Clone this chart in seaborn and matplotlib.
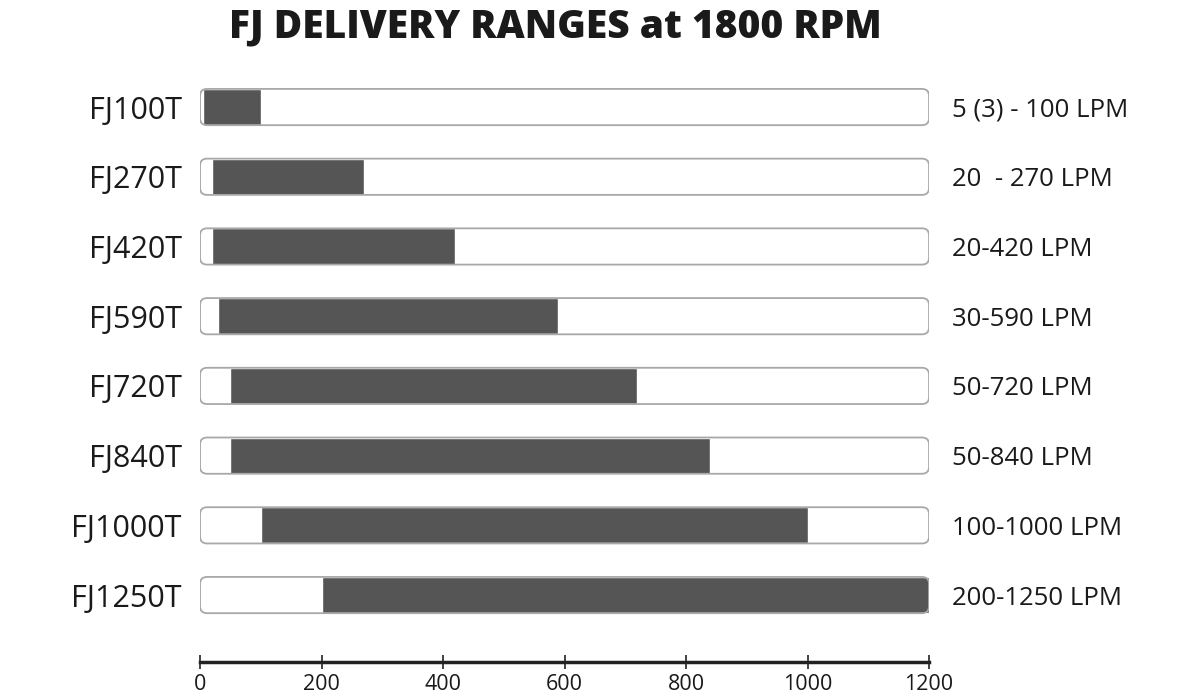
import numpy as np
import pandas as pd
import matplotlib
matplotlib.use("Agg")
import matplotlib.pyplot as plt
import seaborn as sns
from matplotlib.patches import FancyBboxPatch

# datos del grafico
models = ["FJ100T", "FJ270T", "FJ420T", "FJ590T", "FJ720T", "FJ840T", "FJ1000T", "FJ1250T"]
min_lpm = [5, 20, 20, 30, 50, 50, 100, 200]
max_lpm = [100, 270, 420, 590, 720, 840, 1000, 1250]
range_labels = ["5 (3) - 100 LPM", "20  - 270 LPM", "20-420 LPM", "30-590 LPM",
                "50-720 LPM", "50-840 LPM", "100-1000 LPM", "200-1250 LPM"]
scale_max = 1200
xticks = [0, 200, 400, 600, 800, 1000, 1200]

df = pd.DataFrame({"model": models, "min": min_lpm,
                   "max": np.minimum(max_lpm, scale_max), "full": scale_max})

sns.set_theme(style="white")
plt.rcParams["font.family"] = ["Open Sans", "DejaVu Sans"]

fig = plt.figure(figsize=(12, 7), dpi=100)
ax = fig.add_axes([0.1667, 0.0543, 0.6075, 0.8386])

dark = "#555555"
edge = "#a8a8a8"
h = 0.52

# fondo blanco (se convierte en cajas redondeadas)
sns.barplot(data=df, x="full", y="model", color="white", width=h, ax=ax,
            saturation=1, zorder=1)
bg = list(ax.patches)
px_x = scale_max / 729.0
px_y = 1 / 69.7
rounds = []
for p in bg:
    x0, y0 = p.get_x(), p.get_y()
    w, hh = p.get_width(), p.get_height()
    p.remove()
    fb = FancyBboxPatch((x0, y0), w, hh,
                        boxstyle=f"round,pad=0,rounding_size={7 * px_x}",
                        mutation_aspect=px_y / px_x,
                        facecolor="white", edgecolor="none", zorder=1)
    ax.add_patch(fb)
    rounds.append((x0, y0, w, hh))

# rango: barra oscura hasta el maximo, tapada en blanco hasta el minimo
sns.barplot(data=df, x="max", y="model", color=dark, width=h, ax=ax,
            saturation=1, zorder=2)
sns.barplot(data=df, x="min", y="model", color="white", width=h, ax=ax,
            saturation=1, zorder=3)

for x0, y0, w, hh in rounds:
    ax.add_patch(FancyBboxPatch((x0, y0), w, hh,
                                boxstyle=f"round,pad=0,rounding_size={7 * px_x}",
                                mutation_aspect=px_y / px_x,
                                facecolor="none", edgecolor=edge, lw=1.3, zorder=4))

for i, lab in enumerate(range_labels):
    ax.text(1238, i, lab, ha="left", va="center_baseline", fontsize=18.5,
            color="#1a1a1a", fontweight="medium", clip_on=False)

ax.set_xlim(0, scale_max)
ax.set_ylim(7.96, -0.46)
ax.set_xticks(xticks)
ax.set_xlabel("")
ax.set_ylabel("")
for s in ["top", "right", "left"]:
    ax.spines[s].set_visible(False)
ax.spines["bottom"].set_linewidth(2.5)
ax.spines["bottom"].set_color("#222222")
ax.tick_params(axis="x", direction="inout", length=10, width=1.2, colors="#222222",
               labelsize=15.5, labelcolor="#1a1a1a", pad=4, bottom=True)
ax.tick_params(axis="y", length=0, labelsize=22, labelcolor="#1a1a1a", pad=13)
for t in ax.get_yticklabels():
    t.set_fontweight("medium")

fig.suptitle("FJ DELIVERY RANGES at 1800 RPM", fontsize=28, fontweight="heavy",
             color="#1a1a1a", x=0.4625, y=0.99)

fig.savefig("out.png", dpi=100, facecolor="white")
